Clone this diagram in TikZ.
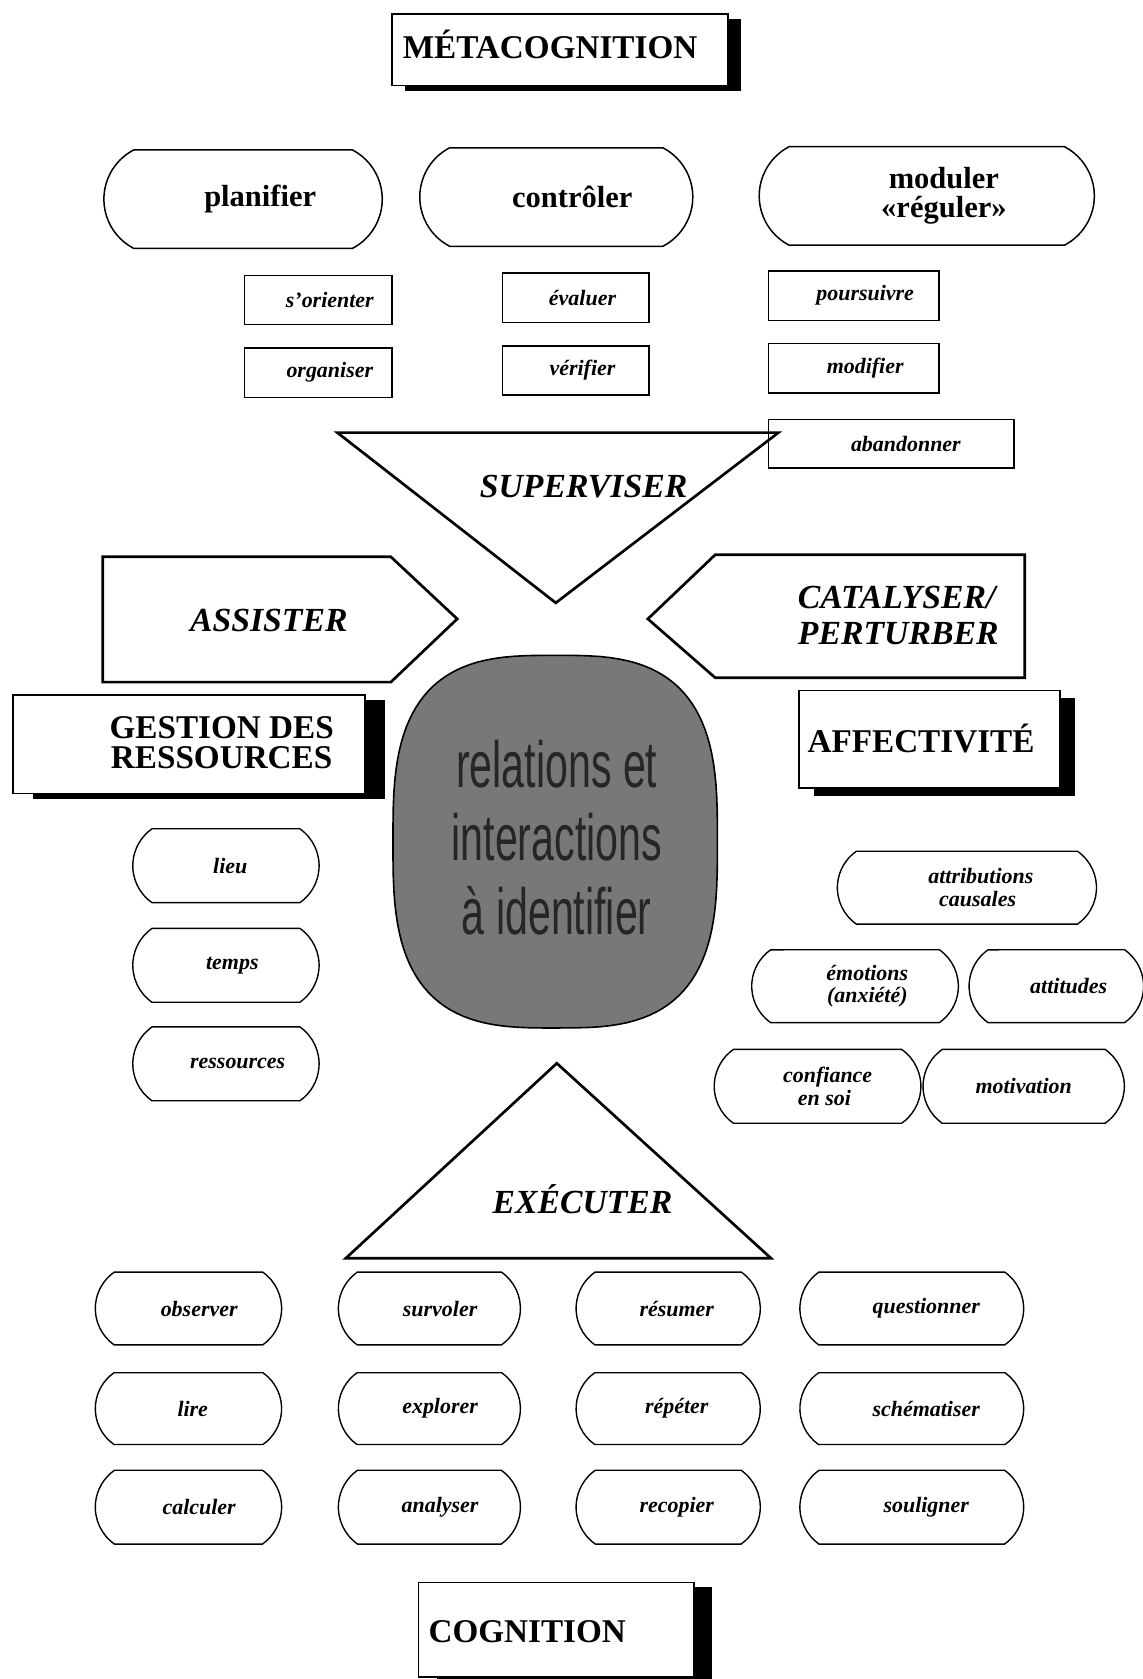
\documentclass[tikz,border=0pt]{standalone}
\usepackage{fontspec}
\setmainfont{Liberation Serif}
\newfontfamily\ctrfont[FakeStretch=0.63]{Liberation Sans}
\usetikzlibrary{shapes.misc}
% shift the text of a node sideways by half the given amount
\newcommand\tx[2]{\hspace*{#1pt}#2}

\begin{document}
\begin{tikzpicture}[x=1pt,y=-1pt,
  hdr/.style={font=\bfseries\fontsize{31}{28}\selectfont},
  act/.style={font=\bfseries\itshape\fontsize{31.5}{34}\selectfont},
  lbl/.style={font=\bfseries\itshape\fontsize{20.5}{21}\selectfont},
  big/.style={font=\bfseries\fontsize{28.5}{27}\selectfont},
  pillL/.style={draw, line width=1.4pt, rounded rectangle,
    rounded rectangle arc length=125, inner sep=0pt, big, align=center},
  pillS/.style={draw, line width=1.3pt, rounded rectangle,
    rounded rectangle arc length=110, inner sep=0pt, lbl, align=center},
  boxS/.style={draw, line width=1.2pt, rectangle, inner sep=0pt, lbl},
  frame/.style={draw, line width=1.3pt, fill=white},
  heavy/.style={draw, line width=2.5pt, line join=miter},
]
\useasboundingbox (0,0) rectangle (1067,1568);

% ---------- METACOGNITION header ----------
\fill (378,18) rectangle (692,85);
\draw[frame] (366,13) rectangle (680,80);
\node[hdr, anchor=base west, inner sep=0pt] (meta) at (376,55) {MÉTACOGNITION};

% ---------- top pills ----------
\node[pillL, minimum width=260, minimum height=92] (planifier) at (227,186) {\tx{32}{planifier}};
\node[pillL, minimum width=255, minimum height=92] (controler) at (519.5,184) {\tx{30}{contrôler}};
\node[pillL, minimum width=313, minimum height=92] (moduler) at (865.5,183) {\tx{32}{moduler}\\\tx{32}{«réguler»}};

% ---------- small rectangles ----------
\node[boxS, minimum width=138, minimum height=46] (sorienter) at (297,280) {\tx{22}{s'orienter}};
\node[boxS, minimum width=138, minimum height=46] (organiser) at (297,348) {\tx{22}{organiser}};
\node[boxS, minimum width=137, minimum height=46] (evaluer) at (537.5,278) {\tx{13}{évaluer}};
\node[boxS, minimum width=137, minimum height=46] (verifier) at (537.5,346) {\tx{13}{vérifier}};
\node[boxS, minimum width=159, minimum height=46] (poursuivre) at (797.5,276) {\tx{21}{poursuivre}};
\node[boxS, minimum width=159, minimum height=46] (modifier) at (797.5,344) {\tx{21}{modifier}};
\node[boxS, minimum width=229, minimum height=45] (abandonner) at (832.5,414.5) {\tx{27}{abandonner}};

% ---------- SUPERVISER ----------
\draw[heavy] (315,404) -- (727,404) -- (519,563) -- cycle;
\node[act, anchor=base, inner sep=0pt] (superviser) at (545,465) {SUPERVISER};

% ---------- ASSISTER / CATALYSER ----------
\draw[heavy, fill=white] (96,520) -- (365,520) -- (427,578) -- (365,637) -- (96,637) -- cycle;
\node[act, anchor=base, inner sep=0pt] (assister) at (251,590) {ASSISTER};
\draw[heavy, fill=white] (605,578) -- (668,518) -- (957,518) -- (957,633) -- (668,633) -- cycle;
\node[act, anchor=north west, inner sep=0pt, align=left] (catalyser) at (745,547) {CATALYSER/\\PERTURBER};

% ---------- GESTION DES RESSOURCES ----------
\fill (31,654) rectangle (360,746);
\draw[frame] (12,649) rectangle (341,741);
\node[hdr, align=center, inner sep=0pt] (gestion) at (207,694) {GESTION DES\\RESSOURCES};

% ---------- AFFECTIVITE ----------
\fill (760,652) rectangle (1004,743);
\draw[frame] (746,645) rectangle (990,736);
\node[hdr, anchor=base west, inner sep=0pt] (affect) at (754,703) {AFFECTIVITÉ};

% ---------- central shaded barrel ----------
\draw[line width=1.5pt, fill=black!53]
  plot[domain=0.5:359.5, samples=120, variable=\t]
  ({518.5+151.5*sign(cos(\t))*abs(cos(\t))^0.66}, {786+174*sign(sin(\t))*abs(sin(\t))^0.66}) -- cycle;
\node[font=\ctrfont\fontsize{61}{68.5}\selectfont, text=black!85, align=center, inner sep=0pt]
  (relations) at (520,782) {relations et\\interactions\\à identifier};

% ---------- resource pills ----------
\node[pillS, minimum width=174, minimum height=69] (lieu) at (211,808.5) {\tx{8}{lieu}};
\node[pillS, minimum width=174, minimum height=69] (temps) at (211,901.5) {\tx{12}{temps}};
\node[pillS, minimum width=174, minimum height=69] (ressources) at (211,993.5) {\tx{22}{ressources}};

% ---------- affect pills ----------
\node[pillS, minimum width=242, minimum height=68] (attributions) at (903,829) {\tx{26}{attributions}\\\tx{20}{causales}};
\node[pillS, minimum width=193, minimum height=68] (emotions) at (798.5,921) {\tx{23}{émotions}\\\tx{23}{(anxiété)}};
\node[pillS, minimum width=163, minimum height=68] (attitudes) at (986.5,921) {\tx{23}{attitudes}};
\node[pillS, minimum width=193, minimum height=69] (confiance) at (763.5,1014.5) {\tx{19}{confiance}\\\tx{13}{en soi}};
\node[pillS, minimum width=188, minimum height=69] (motivation) at (956,1014.5) {motivation};

% ---------- EXECUTER ----------
\draw[heavy] (520,993) -- (720,1175) -- (323,1175) -- cycle;
\node[act, anchor=base, inner sep=0pt] (executer) at (544,1133) {EXÉCUTER};

% ---------- cognitive actions grid ----------
\node[pillS, minimum width=174, minimum height=68] (observer) at (176,1222) {\tx{20}{observer}};
\node[pillS, minimum width=170, minimum height=68] (survoler) at (401,1222) {\tx{20}{survoler}};
\node[pillS, minimum width=172, minimum height=68] (resumer) at (624,1222) {\tx{16}{résumer}};
\node[pillS, minimum width=209, minimum height=68] (questionner) at (851.5,1222) {\tx{27}{questionner}};

\node[pillS, minimum width=174, minimum height=67] (lire) at (176,1315.5) {\tx{8}{lire}};
\node[pillS, minimum width=170, minimum height=67] (explorer) at (401,1315.5) {\tx{20}{explorer}};
\node[pillS, minimum width=172, minimum height=67] (repeter) at (624,1315.5) {\tx{16}{répéter}};
\node[pillS, minimum width=209, minimum height=67] (schematiser) at (851.5,1315.5) {\tx{27}{schématiser}};

\node[pillS, minimum width=174, minimum height=69] (calculer) at (176,1407.5) {\tx{20}{calculer}};
\node[pillS, minimum width=170, minimum height=69] (analyser) at (401,1407.5) {\tx{20}{analyser}};
\node[pillS, minimum width=172, minimum height=69] (recopier) at (624,1407.5) {\tx{16}{recopier}};
\node[pillS, minimum width=209, minimum height=69] (souligner) at (851.5,1407.5) {\tx{27}{souligner}};

% ---------- COGNITION header ----------
\fill (408,1482) rectangle (665,1572);
\draw[frame] (391,1478) rectangle (648,1566);
\node[hdr, anchor=base west, inner sep=0pt] (cognition) at (400,1534) {COGNITION};
\end{tikzpicture}
\end{document}
